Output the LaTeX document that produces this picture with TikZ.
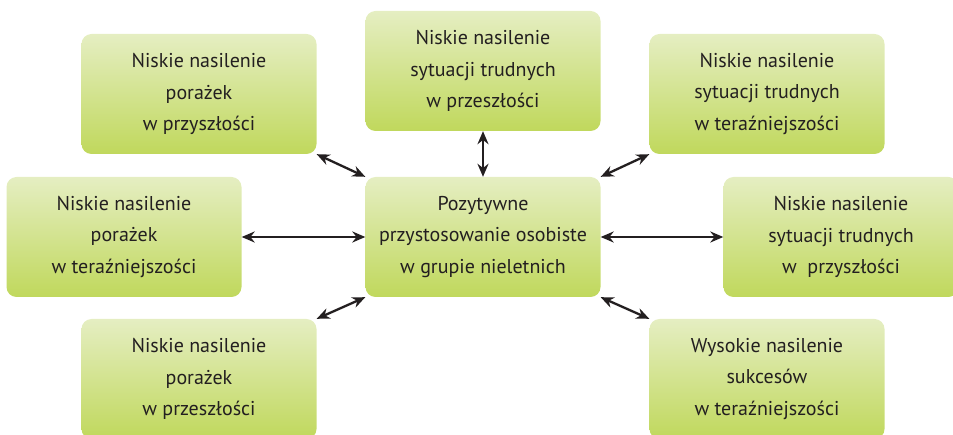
\documentclass[tikz,border=0pt]{standalone}
\usepackage{fontspec}
\setmainfont{PT Sans}
\usetikzlibrary{arrows.meta}
\definecolor{boxtop}{HTML}{E5EEC2}
\definecolor{boxbot}{HTML}{C0D85C}
\definecolor{ink}{HTML}{231F20}

\begin{document}
\begin{tikzpicture}[x=1pt, y=-1pt,
  box/.style={rounded corners=10pt, top color=boxtop, bottom color=boxbot,
    minimum width=235pt, minimum height=120pt, inner sep=0pt, align=center,
    text=ink, font=\fontsize{20}{31.5}\selectfont},
  arr/.style={{Stealth[length=13pt,width=11pt]}-{Stealth[length=13pt,width=11pt]},
    line width=2.3pt, ink}
]
\useasboundingbox (0,0) rectangle (953,435);
\node[box] (adapt)      at (483,237) {Pozytywne\\przystosowanie osobiste\\w grupie nieletnich};
\node[box] (trudPrzesz) at (483,71)  {Niskie nasilenie\\sytuacji trudnych\\w przeszłości};
\node[box] (porPrzysz)  at (199,94)  {Niskie nasilenie\\porażek\\w przyszłości};
\node[box] (trudTeraz)  at (767,94)  {Niskie nasilenie\\sytuacji trudnych\\w teraźniejszości};
\node[box] (porTeraz)   at (124,237) {Niskie nasilenie\\porażek\\w teraźniejszości};
\node[box] (trudPrzysz) at (841,237) {Niskie nasilenie\\sytuacji trudnych\\w~ przyszłości};
\node[box] (porPrzesz)  at (199,379) {Niskie nasilenie\\porażek\\w przeszłości};
\node[box] (sukTeraz)   at (767,379) {Wysokie nasilenie\\sukcesów\\w teraźniejszości};
\draw[arr] (porPrzysz.south east) -- (adapt.north west);
\draw[arr] (trudPrzesz.south) -- (adapt.north);
\draw[arr] (trudTeraz.south west) -- (adapt.north east);
\draw[arr] (porTeraz.east) -- (adapt.west);
\draw[arr] (adapt.east) -- (trudPrzysz.west);
\draw[arr] (porPrzesz.north east) -- (adapt.south west);
\draw[arr] (adapt.south east) -- (sukTeraz.north west);
\end{tikzpicture}
\end{document}
